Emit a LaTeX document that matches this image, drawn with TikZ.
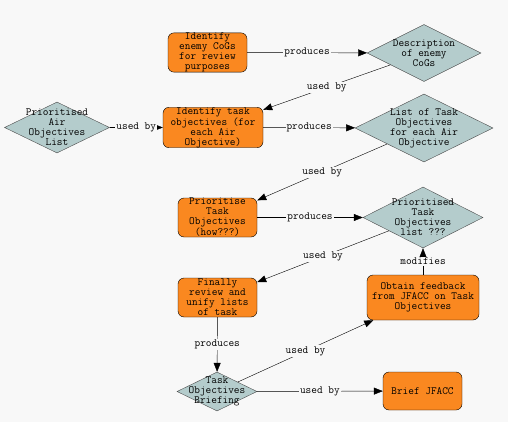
\documentclass[tikz,border=0pt]{standalone}
\usetikzlibrary{shapes.geometric,arrows.meta}
\definecolor{bggray}{RGB}{248,248,248}
\definecolor{taskorange}{RGB}{250,136,32}
\definecolor{datateal}{RGB}{180,204,204}
\begin{document}
\begin{tikzpicture}[x=1pt, y=-1pt,
	every node/.style={font=\ttfamily\fontsize{11}{10}\selectfont},
	task/.style={rectangle, rounded corners=6pt, draw=black, fill=taskorange, align=center, inner sep=0pt},
	datum/.style={diamond, draw=black!70, fill=datateal, inner sep=0pt},
	dtext/.style={align=center, inner sep=0pt},
	flow/.style={-{Triangle[length=9pt,width=7pt]}, black},
	elabel/.style={fill=bggray, inner sep=1pt}]
	%\draw[help lines, step=50] (0,0) grid (508,422);
	\fill[bggray] (0,0) rectangle (508,422);
	\useasboundingbox (0,0) rectangle (508,422);

	% Aufgaben (Rechtecke)
	\node [task, minimum width=79, minimum height=39] (cogs) at (207.5,52.5) {Identify\\enemy CoGs\\for review\\purposes};
	\node [task, minimum width=100, minimum height=39] (identify) at (213,127.5) {Identify task\\objectives (for\\each Air\\Objective)};
	\node [task, minimum width=79, minimum height=39] (prioritise) at (217.5,217.5) {Prioritise\\Task\\Objectives\\(how???)};
	\node [task, minimum width=79, minimum height=39] (unify) at (217.5,297.5) {Finally\\review and\\unify lists\\of task};
	\node [task, minimum width=112, minimum height=45] (feedback) at (423,297.5) {Obtain feedback\\from JFACC on Task\\Objectives};
	\node [task, minimum width=79, minimum height=38] (brief) at (422.5,391) {Brief JFACC};

	% Daten (Rauten)
	\node [datum, minimum width=114, minimum height=57] (desc) at (424,53) {};
	\node [dtext] at (desc) {Description\\of enemy\\CoGs};
	\node [datum, minimum width=105, minimum height=51] (airlist) at (57,127.5) {};
	\node [dtext] at (airlist) {Prioritised\\Air\\Objectives\\List};
	\node [datum, minimum width=138, minimum height=68] (tasklist) at (424,128) {};
	\node [dtext] at (tasklist) {List of Task\\Objectives\\for each Air\\Objective};
	\node [datum, minimum width=120, minimum height=61] (priolist) at (423,217.5) {};
	\node [dtext] at (priolist) {Prioritised\\Task\\Objectives\\list ???};
	\node [datum, minimum width=80, minimum height=39] (briefing) at (217,391.5) {};
	\node [dtext] at (briefing) {Task\\Objectives\\Briefing};

	% Verbindungen
	\draw [flow] (cogs) -- node [elabel] {produces} (desc);
	\draw [flow] (desc) -- node [elabel] {used by} (identify);
	\draw [flow] (airlist) -- node [elabel] {used by} (identify);
	\draw [flow] (identify) -- node [elabel] {produces} (tasklist);
	\draw [flow] (tasklist) -- node [elabel] {used by} (prioritise);
	\draw [flow] (prioritise) -- node [elabel] {produces} (priolist);
	\draw [flow] (priolist) -- node [elabel] {used by} (unify);
	\draw [flow] (feedback) -- node [elabel] {modifies} (priolist);
	\draw [flow] (unify) -- node [elabel] {produces} (briefing);
	\draw [flow] (briefing) -- node [elabel] {used by} (feedback);
	\draw [flow] (briefing) -- node [elabel] {used by} (brief);
\end{tikzpicture}
\end{document}
